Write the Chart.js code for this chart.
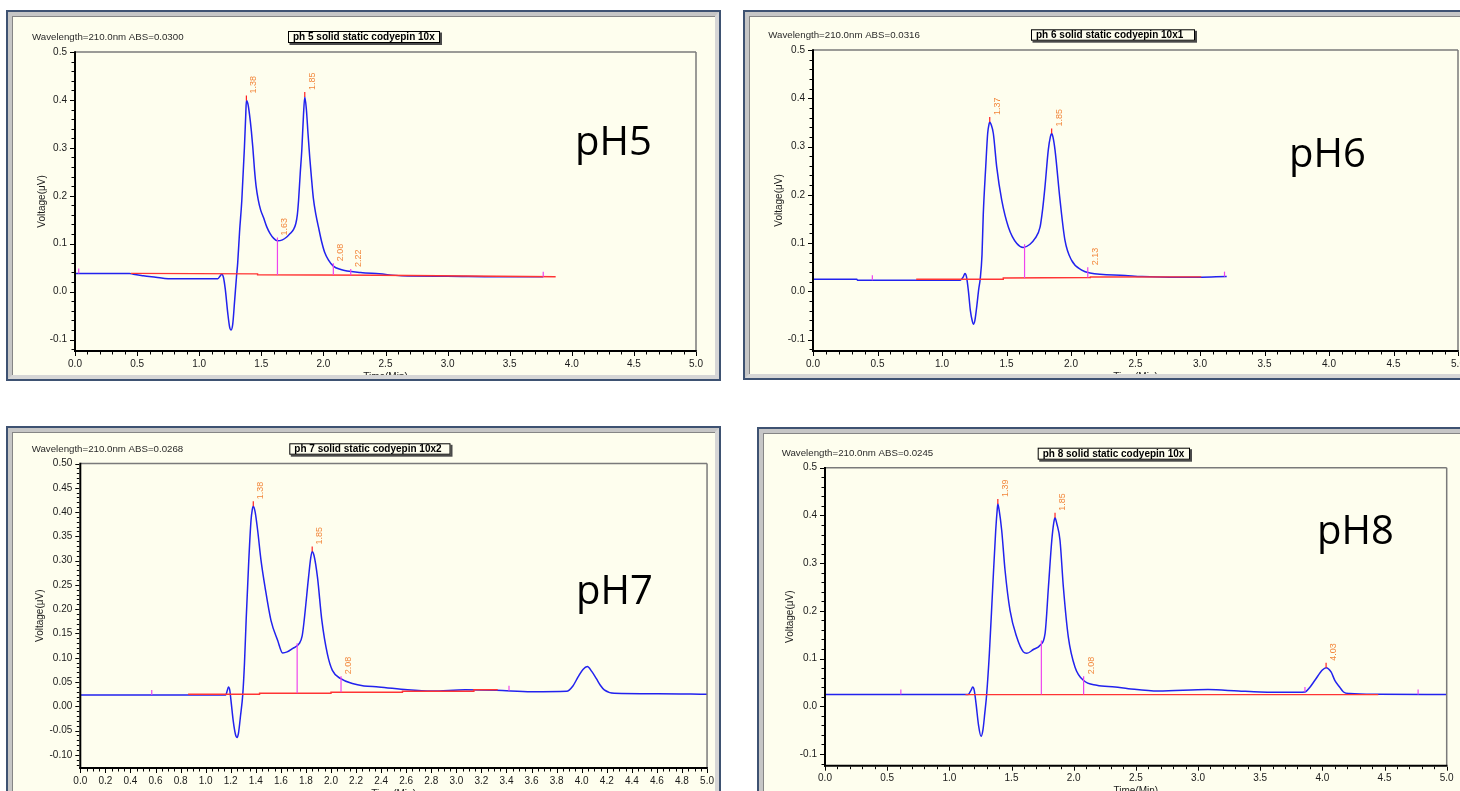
<!DOCTYPE html>
<html>
<head>
<meta charset="utf-8">
<title>Cordycepin chromatograms, pH 5 to pH 8</title>
<script src="https://cdn.jsdelivr.net/npm/chart.js@4.4.1/dist/chart.umd.min.js"></script>
<style>
  html, body { margin: 0; padding: 0; background: #ffffff; }
  body { width: 1460px; height: 791px; overflow: hidden; position: relative; }
  .panel { position: absolute; overflow: hidden; background: #fefeee; }
  .panel canvas { position: absolute; left: 0; top: 0; }
  .frame { position: absolute; left: 0; top: 0; right: 0; bottom: 0; box-sizing: border-box;
           border: 2px solid #3e5272; pointer-events: none; }
  .frame .band { position: absolute; left: 0; top: 0; right: 0; bottom: 0; box-sizing: border-box;
                 border: 4px solid #d6d6d6; border-top-color: #c6c6c6; border-left-color: #c6c6c6;
                 box-shadow: inset 1px 1px 0 #858585; }
</style>
</head>
<body>
<div class="panel" style="left:6px;top:10px;width:715px;height:371px"><canvas id="chart-ph5"></canvas><div class="frame"><div class="band"></div></div></div>
<div class="panel" style="left:743px;top:10px;width:760px;height:370px"><canvas id="chart-ph6"></canvas><div class="frame"><div class="band"></div></div></div>
<div class="panel" style="left:6px;top:426px;width:715px;height:380px"><canvas id="chart-ph7"></canvas><div class="frame"><div class="band"></div></div></div>
<div class="panel" style="left:757px;top:427px;width:760px;height:380px"><canvas id="chart-ph8"></canvas><div class="frame"><div class="band"></div></div></div>
<script>
// ---- axis tick values ----
const xTicksHalf = [0, 0.5, 1, 1.5, 2, 2.5, 3, 3.5, 4, 4.5, 5];
const xTicksFifth = [0, 0.2, 0.4, 0.6, 0.8, 1, 1.2, 1.4, 1.6, 1.8, 2, 2.2, 2.4, 2.6, 2.8, 3, 3.2, 3.4, 3.6, 3.8, 4, 4.2, 4.4, 4.6, 4.8, 5];
const yTicksTenth = [-0.1, 0, 0.1, 0.2, 0.3, 0.4, 0.5];
const yTicksTwentieth = [-0.1, -0.05, 0, 0.05, 0.1, 0.15, 0.2, 0.25, 0.3, 0.35, 0.4, 0.45, 0.5];

// ---- pH 5 run ----
const ph5Time = [0, 0.44, 0.47, 0.55, 0.65, 0.75, 1.15, 1.17, 1.18, 1.195, 1.21, 1.23, 1.245, 1.257, 1.27, 1.285, 1.30, 1.31, 1.325, 1.343, 1.364, 1.375, 1.38, 1.392, 1.405, 1.42, 1.432, 1.445, 1.458, 1.475, 1.495, 1.517, 1.544, 1.571, 1.60, 1.63, 1.67, 1.705, 1.732, 1.76, 1.778, 1.79, 1.80, 1.813, 1.826, 1.839, 1.85, 1.863, 1.876, 1.89, 1.903, 1.919, 1.94, 1.96, 1.985, 2.01, 2.04, 2.08, 2.14, 2.19, 2.30, 2.45, 2.63, 3.00, 3.40, 3.77];
const ph5Signal = [0.038, 0.038, 0.036, 0.033, 0.030, 0.027, 0.027, 0.033, 0.036, 0.030, 0.005, -0.045, -0.074, -0.080, -0.068, -0.020, 0.030, 0.060, 0.125, 0.190, 0.300, 0.370, 0.399, 0.392, 0.370, 0.335, 0.300, 0.255, 0.220, 0.192, 0.170, 0.155, 0.135, 0.121, 0.111, 0.106, 0.108, 0.114, 0.121, 0.130, 0.142, 0.160, 0.190, 0.245, 0.295, 0.365, 0.406, 0.380, 0.330, 0.280, 0.240, 0.195, 0.160, 0.135, 0.105, 0.082, 0.066, 0.053, 0.046, 0.043, 0.040, 0.037, 0.033, 0.032, 0.031, 0.031];
const ph5BaseTime = [0.45, 1.47, 1.47, 2.45, 3.87];
const ph5BaseSignal = [0.038, 0.037, 0.035, 0.034, 0.031];
const ph5PeakTimes = [1.38, 1.85];
const ph5PeakHeights = [0.399, 0.406];
const ph5DropTimes = [1.63, 2.08, 2.22];
const ph5DropTops = [0.113, 0.059, 0.047];
const ph5DropLabelled = [true, true, true];
const ph5EventTimes = [0.03, 3.77];

// ---- pH 6 run ----
const ph6Time = [0, 0.34, 0.345, 1.14, 1.165, 1.178, 1.19, 1.205, 1.22, 1.235, 1.243, 1.255, 1.27, 1.285, 1.296, 1.31, 1.32, 1.339, 1.354, 1.365, 1.37, 1.38, 1.398, 1.424, 1.463, 1.515, 1.58, 1.63, 1.68, 1.72, 1.76, 1.78, 1.798, 1.824, 1.84, 1.85, 1.86, 1.876, 1.915, 1.953, 2.005, 2.083, 2.147, 2.42, 2.55, 2.85, 3.207];
const ph6Signal = [0.025, 0.025, 0.023, 0.023, 0.030, 0.037, 0.030, 0.000, -0.040, -0.062, -0.068, -0.060, -0.030, 0.005, 0.025, 0.075, 0.160, 0.258, 0.327, 0.347, 0.351, 0.346, 0.327, 0.258, 0.189, 0.133, 0.099, 0.091, 0.097, 0.109, 0.133, 0.170, 0.216, 0.293, 0.320, 0.327, 0.320, 0.293, 0.189, 0.106, 0.064, 0.044, 0.038, 0.033, 0.0305, 0.029, 0.0305];
const ph6BaseTime = [0.80, 1.475, 1.475, 2.15, 2.15, 3.01];
const ph6BaseSignal = [0.025, 0.025, 0.0276, 0.0286, 0.0297, 0.030];
const ph6PeakTimes = [1.37, 1.85];
const ph6PeakHeights = [0.351, 0.327];
const ph6DropTimes = [1.64, 2.13];
const ph6DropTops = [0.0975, 0.050];
const ph6DropLabelled = [false, true];
const ph6EventTimes = [0.46, 3.19];

// ---- pH 7 run ----
const ph7Time = [0, 1.16, 1.172, 1.182, 1.192, 1.205, 1.22, 1.238, 1.251, 1.262, 1.278, 1.296, 1.31, 1.323, 1.344, 1.362, 1.372, 1.38, 1.395, 1.415, 1.442, 1.474, 1.521, 1.574, 1.614, 1.65, 1.693, 1.746, 1.77, 1.786, 1.821, 1.838, 1.85, 1.865, 1.892, 1.927, 1.971, 2.011, 2.078, 2.17, 2.263, 2.38, 2.61, 2.806, 3.07, 3.32, 3.60, 3.88, 3.93, 3.97, 4.01, 4.045, 4.08, 4.117, 4.15, 4.18, 4.26, 4.61, 5.0];
const ph7Signal = [0.0233, 0.0233, 0.032, 0.040, 0.034, 0.005, -0.030, -0.058, -0.064, -0.055, -0.020, 0.024, 0.090, 0.177, 0.300, 0.383, 0.405, 0.412, 0.400, 0.362, 0.300, 0.245, 0.177, 0.136, 0.110, 0.112, 0.119, 0.129, 0.145, 0.177, 0.266, 0.305, 0.319, 0.310, 0.266, 0.177, 0.108, 0.074, 0.057, 0.047, 0.042, 0.040, 0.034, 0.0315, 0.034, 0.033, 0.030, 0.031, 0.042, 0.060, 0.076, 0.082, 0.072, 0.057, 0.043, 0.034, 0.027, 0.026, 0.0247];
const ph7BaseTime = [0.86, 1.43, 1.43, 2.0, 2.0, 2.57, 2.57, 3.14, 3.14, 3.33];
const ph7BaseSignal = [0.025, 0.025, 0.027, 0.027, 0.029, 0.029, 0.031, 0.031, 0.034, 0.034];
const ph7PeakTimes = [1.38, 1.85];
const ph7PeakHeights = [0.412, 0.319];
const ph7DropTimes = [1.73, 2.08];
const ph7DropTops = [0.130, 0.062];
const ph7DropLabelled = [false, true];
const ph7EventTimes = [0.57, 3.42];

// ---- pH 8 run ----
const ph8Time = [0, 1.15, 1.175, 1.188, 1.20, 1.215, 1.235, 1.255, 1.27, 1.285, 1.30, 1.322, 1.349, 1.373, 1.385, 1.39, 1.40, 1.421, 1.448, 1.488, 1.542, 1.595, 1.623, 1.676, 1.73, 1.77, 1.797, 1.824, 1.84, 1.85, 1.865, 1.89, 1.917, 1.957, 2.011, 2.078, 2.186, 2.333, 2.44, 2.68, 3.08, 3.325, 3.50, 3.81, 3.86, 3.90, 3.94, 4.00, 4.03, 4.07, 4.10, 4.14, 4.17, 4.22, 4.45, 5.0];
const ph8Signal = [0.0245, 0.0245, 0.034, 0.0405, 0.034, 0.005, -0.040, -0.063, -0.050, -0.015, 0.0245, 0.111, 0.250, 0.369, 0.412, 0.424, 0.412, 0.369, 0.285, 0.201, 0.145, 0.114, 0.111, 0.119, 0.128, 0.153, 0.250, 0.348, 0.385, 0.395, 0.382, 0.348, 0.250, 0.145, 0.082, 0.0545, 0.044, 0.0405, 0.037, 0.032, 0.035, 0.032, 0.030, 0.0294, 0.030, 0.040, 0.0545, 0.076, 0.081, 0.072, 0.0545, 0.040, 0.030, 0.0266, 0.025, 0.0245];
const ph8BaseTime = [1.13, 4.45];
const ph8BaseSignal = [0.0245, 0.0245];
const ph8PeakTimes = [1.39, 1.85, 4.03];
const ph8PeakHeights = [0.424, 0.395, 0.081];
const ph8DropTimes = [1.74, 2.08];
const ph8DropTops = [0.138, 0.063];
const ph8DropLabelled = [false, true];
const ph8EventTimes = [0.61, 3.86, 4.77];

// ---- panel layout ----
const FONT = '"Liberation Sans", Arial, sans-serif';
const panels = [
  { canvas: 'chart-ph5', w: 715, h: 371, pad: { left: 29, right: 25, top: 42, bottom: 10 },
    yMin: -0.124, yMax: 0.5, xTicks: xTicksHalf, yTicks: yTicksTenth, xMajor: 0.5, xMinor: 0.1, yMajor: 0.1, yMinor: 0.02, yDigits: 1, yTitleGap: 33,
    header: 'Wavelength=210.0nm ABS=0.0300', headerAt: [26, 27.5],
    sample: 'ph 5 solid static codyepin 10x', box: [282, 21, 436, 35],
    tag: 'pH5', tagAt: [569, 145],
    time: ph5Time, signal: ph5Signal, baseT: ph5BaseTime, baseV: ph5BaseSignal,
    peakT: ph5PeakTimes, peakV: ph5PeakHeights, dropT: ph5DropTimes, dropV: ph5DropTops, dropL: ph5DropLabelled, events: ph5EventTimes },
  { canvas: 'chart-ph6', w: 760, h: 370, pad: { left: 30, right: 45, top: 40, bottom: 9 },
    yMin: -0.1236, yMax: 0.5, xTicks: xTicksHalf, yTicks: yTicksTenth, xMajor: 0.5, xMinor: 0.1, yMajor: 0.1, yMinor: 0.02, yDigits: 1, yTitleGap: 34,
    header: 'Wavelength=210.0nm ABS=0.0316', headerAt: [25.3, 25],
    sample: 'ph 6 solid static codyepin 10x1', box: [288, 19.3, 454, 32.7],
    tag: 'pH6', tagAt: [546, 157],
    time: ph6Time, signal: ph6Signal, baseT: ph6BaseTime, baseV: ph6BaseSignal,
    peakT: ph6PeakTimes, peakV: ph6PeakHeights, dropT: ph6DropTimes, dropV: ph6DropTops, dropL: ph6DropLabelled, events: ph6EventTimes },
  { canvas: 'chart-ph7', w: 715, h: 380, pad: { left: 34.3, right: 11.7, top: 37.5, bottom: 18 },
    yMin: -0.127, yMax: 0.5, xTicks: xTicksFifth, yTicks: yTicksTwentieth, xMajor: 0.2, xMinor: 0.05, yMajor: 0.05, yMinor: 0.01, yDigits: 2, yTitleGap: 40,
    header: 'Wavelength=210.0nm ABS=0.0268', headerAt: [25.7, 23],
    sample: 'ph 7 solid static codyepin 10x2', box: [283.3, 17.3, 446.5, 30.7],
    tag: 'pH7', tagAt: [570, 178],
    time: ph7Time, signal: ph7Signal, baseT: ph7BaseTime, baseV: ph7BaseSignal,
    peakT: ph7PeakTimes, peakV: ph7PeakHeights, dropT: ph7DropTimes, dropV: ph7DropTops, dropL: ph7DropLabelled, events: ph7EventTimes },
  { canvas: 'chart-ph8', w: 760, h: 380, pad: { left: 28, right: 70.3, top: 40.7, bottom: 21.3 },
    yMin: -0.1245, yMax: 0.5, xTicks: xTicksHalf, yTicks: yTicksTenth, xMajor: 0.5, xMinor: 0.1, yMajor: 0.1, yMinor: 0.02, yDigits: 1, yTitleGap: 34.5,
    header: 'Wavelength=210.0nm ABS=0.0245', headerAt: [24.7, 26.3],
    sample: 'ph 8 solid static codyepin 10x', box: [280.7, 20.7, 435, 34.7],
    tag: 'pH8', tagAt: [560, 117],
    time: ph8Time, signal: ph8Signal, baseT: ph8BaseTime, baseV: ph8BaseSignal,
    peakT: ph8PeakTimes, peakV: ph8PeakHeights, dropT: ph8DropTimes, dropV: ph8DropTops, dropL: ph8DropLabelled, events: ph8EventTimes }
];

// ---- helpers ----
function pairs(ts, vs) { return ts.map((t, i) => ({ x: t, y: vs[i] })); }
function valueAt(ts, vs, t) {
  for (let i = 1; i < ts.length; i++) {
    if (t >= ts[i - 1] && t <= ts[i]) {
      const span = ts[i] - ts[i - 1];
      if (span === 0) return vs[i - 1];
      return vs[i - 1] + (vs[i] - vs[i - 1]) * (t - ts[i - 1]) / span;
    }
  }
  return null;
}
function dropSegments(p) {
  const out = [];
  p.dropT.forEach((t, i) => {
    let foot = valueAt(p.baseT, p.baseV, t);
    if (foot === null) foot = valueAt(p.time, p.signal, t);
    out.push({ x: t, y: foot }, { x: t, y: p.dropV[i] }, { x: t, y: null });
  });
  return out;
}
function rotatedLabel(ctx, text, px, py) {
  ctx.save();
  ctx.translate(px + 3, py - 2);
  ctx.rotate(-Math.PI / 2);
  ctx.textAlign = 'left';
  ctx.textBaseline = 'top';
  ctx.fillText(text, 0, 0);
  ctx.restore();
}
function hLine(ctx, x1, y1, x2, y2) { ctx.beginPath(); ctx.moveTo(x1, y1); ctx.lineTo(x2, y2); ctx.stroke(); }

// Instrument-style decoration: header, sample box, axis frame, tick marks, peak labels
function makeDecor(p) {
  return {
    id: 'chromDecor',
    beforeDraw(chart) {
      const ctx = chart.ctx;
      ctx.save();
      ctx.fillStyle = '#2b2b2b';
      ctx.font = '9.7px ' + FONT;
      ctx.textAlign = 'left';
      ctx.textBaseline = 'middle';
      ctx.fillText(p.header, p.headerAt[0], p.headerAt[1]);
      const [l, t, r, b] = p.box;
      ctx.fillStyle = '#4a4a4a';
      ctx.fillRect(l + 1.5, t + 1.5, r - l - 1.5, b - t - 1.5);
      ctx.fillStyle = '#fefeee';
      ctx.fillRect(l, t, r - l - 2, b - t - 2);
      ctx.strokeStyle = '#000';
      ctx.lineWidth = 1;
      ctx.strokeRect(l + 0.5, t + 0.5, r - l - 3, b - t - 3);
      ctx.fillStyle = '#000';
      ctx.font = 'bold 10px ' + FONT;
      ctx.fillText(p.sample, l + 5, (t + b - 2) / 2 + 0.5);
      ctx.font = '40px "Open Sans", "Noto Sans", sans-serif';
      ctx.textBaseline = 'alphabetic';
      ctx.fillText(p.tag, p.tagAt[0], p.tagAt[1]);
      ctx.restore();
    },
    afterDatasetsDraw(chart) {
      const { ctx, chartArea: a, scales: { x, y } } = chart;
      ctx.save();
      // plot frame
      ctx.strokeStyle = '#7a7a7a';
      ctx.lineWidth = 1.5;
      hLine(ctx, a.left, a.top, a.right, a.top);
      hLine(ctx, a.right, a.top, a.right, a.bottom);
      ctx.strokeStyle = '#000';
      ctx.lineWidth = 2;
      hLine(ctx, a.left, a.top - 0.75, a.left, a.bottom + 1);
      hLine(ctx, a.left - 1, a.bottom, a.right + 0.75, a.bottom);
      // tick marks
      ctx.lineWidth = 1;
      const nx = Math.round(5 / p.xMinor);
      for (let i = 0; i <= nx; i++) {
        const v = i * p.xMinor;
        const px = Math.round(x.getPixelForValue(v)) + 0.5;
        const major = Math.abs(v / p.xMajor - Math.round(v / p.xMajor)) < 1e-6;
        hLine(ctx, px, a.bottom + 1, px, a.bottom + (major ? 5 : 3.5));
      }
      const y0 = Math.ceil(p.yMin / p.yMinor - 1e-6);
      const y1 = Math.floor(p.yMax / p.yMinor + 1e-6);
      for (let k = y0; k <= y1; k++) {
        const v = k * p.yMinor;
        const py = Math.round(y.getPixelForValue(v)) + 0.5;
        const major = Math.abs(v / p.yMajor - Math.round(v / p.yMajor)) < 1e-6;
        hLine(ctx, a.left - 1, py, a.left - (major ? 5 : 3.5), py);
      }
      // small event ticks sitting on the trace
      ctx.strokeStyle = '#ee44ee';
      ctx.lineWidth = 1.2;
      p.events.forEach(t => {
        const v = valueAt(p.time, p.signal, t);
        const px = x.getPixelForValue(t), py = y.getPixelForValue(v);
        hLine(ctx, px, py, px, py - 5);
      });
      // apex ticks and retention-time labels
      ctx.font = '9px ' + FONT;
      ctx.fillStyle = '#f2873c';
      p.peakT.forEach((t, i) => {
        const px = x.getPixelForValue(t), py = y.getPixelForValue(p.peakV[i]);
        ctx.strokeStyle = '#ff2020';
        ctx.lineWidth = 1.2;
        hLine(ctx, px, py, px, py - 5);
        rotatedLabel(ctx, t.toFixed(2), px, py - 5);
      });
      p.dropT.forEach((t, i) => {
        if (!p.dropL[i]) return;
        rotatedLabel(ctx, t.toFixed(2), x.getPixelForValue(t), y.getPixelForValue(p.dropV[i]));
      });
      // axis titles
      ctx.fillStyle = '#1a1a1a';
      ctx.font = '10px ' + FONT;
      ctx.textAlign = 'center';
      ctx.textBaseline = 'middle';
      ctx.fillText('Time(Min)', (a.left + a.right) / 2, a.bottom + 26);
      ctx.save();
      ctx.translate(a.left - p.yTitleGap, (a.top + a.bottom) / 2);
      ctx.rotate(-Math.PI / 2);
      ctx.fillText('Voltage(\u03bcV)', 0, 0);
      ctx.restore();
      ctx.restore();
    }
  };
}

// ---- build the four charts ----
panels.forEach(p => {
  const canvas = document.getElementById(p.canvas);
  canvas.width = p.w;
  canvas.height = p.h;
  new Chart(canvas, {
    type: 'scatter',
    data: {
      datasets: [
        { label: 'drop lines', data: dropSegments(p), showLine: true, spanGaps: false,
          borderColor: '#ee44ee', borderWidth: 1.2, pointRadius: 0, tension: 0, order: 0 },
        { label: 'baseline', data: pairs(p.baseT, p.baseV), showLine: true,
          borderColor: '#ff3434', borderWidth: 1.4, pointRadius: 0, tension: 0, order: 1 },
        { label: 'signal', data: pairs(p.time, p.signal), showLine: true,
          borderColor: '#2222ee', borderWidth: 1.5, pointRadius: 0, cubicInterpolationMode: 'monotone', order: 2 }
      ]
    },
    options: {
      responsive: false,
      animation: false,
      events: [],
      layout: { padding: p.pad },
      plugins: { legend: { display: false }, tooltip: { enabled: false } },
      scales: {
        x: {
          type: 'linear', min: 0, max: 5,
          afterBuildTicks: s => { s.ticks = p.xTicks.map(v => ({ value: v })); },
          afterFit: s => { s.height = 20; },
          grid: { display: false, drawTicks: false },
          border: { display: false },
          ticks: { padding: 7, maxRotation: 0, autoSkip: false, color: '#1a1a1a',
                   font: { family: FONT, size: 10 }, callback: v => Number(v).toFixed(1) }
        },
        y: {
          type: 'linear', min: p.yMin, max: p.yMax,
          afterBuildTicks: s => { s.ticks = p.yTicks.map(v => ({ value: v })); },
          afterFit: s => { s.width = 40; },
          grid: { display: false, drawTicks: false },
          border: { display: false },
          ticks: { padding: 8, color: '#1a1a1a', font: { family: FONT, size: 10 },
                   callback: v => Number(v).toFixed(p.yDigits) }
        }
      }
    },
    plugins: [makeDecor(p)]
  });
});
</script>
</body>
</html>
